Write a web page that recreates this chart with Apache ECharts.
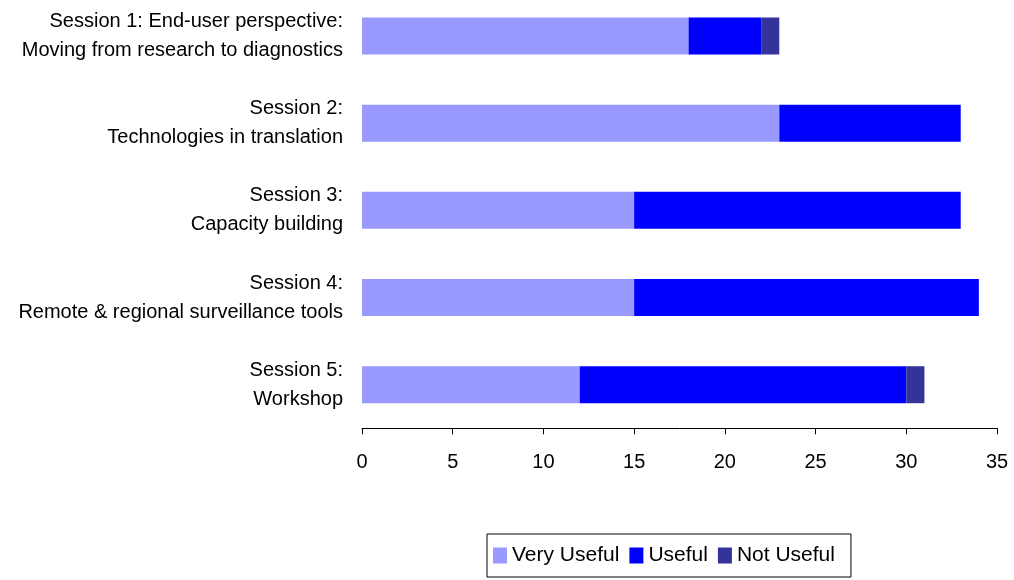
<!DOCTYPE html>
<html>
<head>
<meta charset="utf-8">
<script src="https://cdn.jsdelivr.net/npm/echarts@6/dist/echarts.min.js"></script>
<style>
  html, body { margin: 0; padding: 0; background: #fff; overflow: hidden; }
  #chart { width: 1014px; height: 600px; margin-top: -20px; }
</style>
</head>
<body>
<div id="chart"></div>
<script>
const sessions = [
  "Session 1: End-user perspective:\nMoving from research to diagnostics",
  "Session 2:\nTechnologies in translation",
  "Session 3:\nCapacity building",
  "Session 4:\nRemote & regional surveillance tools",
  "Session 5:\nWorkshop"
]
const veryUseful = [18, 23, 15, 15, 12]
const useful = [4, 10, 18, 19, 18]
const notUseful = [1, 0, 0, 0, 1]
const seriesNames = ["Very Useful", "Useful", "Not Useful"]
const colors = ["#9999FF", "#0000FF", "#333399"]

const font = "'Liberation Sans', Arial, sans-serif"
const chart = echarts.init(document.getElementById("chart"))

// chart div is shifted up 20px so the first band can start above the page edge
chart.setOption({
  animation: false,
  color: colors,
  textStyle: { fontFamily: font },
  grid: {
    left: 362,
    right: 17,
    top: 12.4,
    bottom: 151.7,
    containLabel: false,
  },
  legend: {
    data: seriesNames,
    left: 487,
    top: 554,
    icon: "rect",
    itemWidth: 14,
    itemHeight: 16,
    itemGap: 10,
    padding: [11, 16, 11, 6],
    borderColor: "#000",
    borderWidth: 1,
    textStyle: { fontSize: 21, color: "#000", fontFamily: font },
  },
  xAxis: {
    type: "value",
    min: 0,
    max: 35,
    interval: 5,
    splitLine: { show: false },
    axisLine: { show: true, lineStyle: { color: "#000", width: 1 } },
    axisTick: { show: true, length: 6, lineStyle: { color: "#000" } },
    axisLabel: { color: "#000", fontSize: 20, margin: 24, fontFamily: font },
  },
  yAxis: {
    type: "category",
    inverse: true,
    data: sessions,
    axisLine: { show: false },
    axisTick: { show: false },
    axisLabel: {
      color: "#000",
      fontSize: 20,
      lineHeight: 29,
      margin: 19,
      align: "right",
      fontFamily: font,
    },
  },
  series: [
    { name: seriesNames[0], type: "bar", stack: "total", data: veryUseful, barWidth: 37 },
    { name: seriesNames[1], type: "bar", stack: "total", data: useful, barWidth: 37 },
    { name: seriesNames[2], type: "bar", stack: "total", data: notUseful, barWidth: 37 },
  ],
})
</script>
</body>
</html>
